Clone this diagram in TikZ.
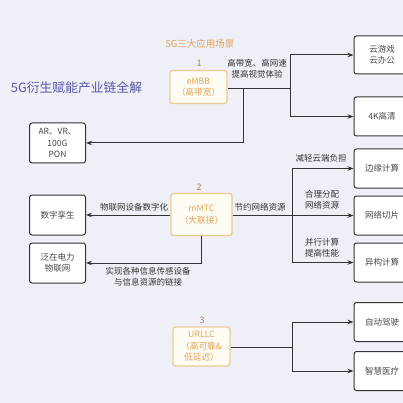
\documentclass[tikz,border=0pt]{standalone}
\usepackage{fontspec}
\setmainfont{Noto Sans CJK SC}
\usetikzlibrary{arrows.meta}
\definecolor{bg}{HTML}{EFEFF7}
\definecolor{org}{HTML}{E2A255}
\definecolor{orgdk}{HTML}{A8804F}
\definecolor{orgbd}{HTML}{EDCB96}
\definecolor{orgfill}{HTML}{FFFCF3}
\definecolor{ttl}{HTML}{5555AA}
\definecolor{ln}{HTML}{333333}
\tikzset{
  x=1pt, y=-1pt,
  scen/.style={draw=orgbd, line width=1.3pt, fill=orgfill, rounded corners=2.5pt, text=org,
    align=center, font=\fontsize{8.7}{11.5}\selectfont, inner sep=0pt},
  item/.style={draw=ln, line width=1pt, fill=white, rounded corners=2.5pt, text=ln!90,
    align=center, font=\fontsize{8.5}{11.5}\selectfont, inner sep=0pt, minimum width=56pt, minimum height=39pt},
  lbl/.style={text=ln, align=center, font=\fontsize{8.5}{11}\selectfont, inner sep=0pt},
  num/.style={text=orgdk, font=\fontsize{9}{10}\selectfont, inner sep=0pt},
  conn/.style={draw=ln, line width=1pt},
  arr/.style={conn, -{Stealth[length=6pt,width=4.5pt]}}
}
\begin{document}
\begin{tikzpicture}
\fill[bg] (0,0) rectangle (403,403);
\useasboundingbox (0,0) rectangle (403,403);
\clip (0,0) rectangle (403,403);

\node[text=ttl, font=\fontsize{12.8}{14}\selectfont, inner sep=0pt] (title) at (76.5,88) {5G衍生赋能产业链全解};
\node[text=org, font=\fontsize{9.5}{11}\selectfont, inner sep=0pt] (head) at (200,44) {5G三大应用场景};

% scenario boxes
\node[scen, minimum width=57pt, minimum height=33pt] (e) at (198.5,87) {eMBB\\（高带宽）};
\node[num] (n1) at (199,63) {1};
\node[scen, minimum width=61pt, minimum height=42pt] (m) at (201.5,214.5) {mMTC\\（大联接）};
\node[num] (n2) at (199,187) {2};
\node[scen, minimum width=57pt, minimum height=39pt] (u) at (201.5,346.5) {URLLC\\（高可靠\&\\低延迟）};
\node[num] (n3) at (202,320) {3};

% left items
\node[item, minimum height=40pt] (ar) at (57.5,143) {AR、VR、\\100G\\PON};
\node[item, minimum height=40pt] (dt) at (57.5,215) {数字孪生};
\node[item, minimum height=40pt] (pw) at (57.5,263) {泛在电力\\物联网};

% right items
\node[item, minimum height=38pt] (cg) at (382,55) {云游戏\\云办公};
\node[item] (k4) at (382,116.5) {4K高清};
\node[item] (ec) at (382,168.5) {边缘计算};
\node[item] (ns) at (382,215.5) {网络切片};
\node[item] (hc) at (382,262.5) {异构计算};
\node[item] (ad) at (382,322) {自动驾驶};
\node[item] (sm) at (382,371) {智慧医疗};

% eMBB connectors
\coordinate (e1) at (290,89);
\coordinate (e2) at (243,89);
\draw[conn] (e.east |- e1) -- (e1);
\draw[arr] (e1) |- (cg.west);
\draw[arr] (e1) |- (k4.west);
\draw[arr] (e2) |- (ar.east);
\node[lbl] (le) at (257,69) {高带宽、高网速\\提高视觉体验};

% mMTC connectors
\coordinate (m1) at (292,215.5);
\draw[arr] (m.east |- ns.west) -- (ns.west);
\draw[arr] (m1) |- (ec.west);
\draw[arr] (m1) |- (hc.west);
\draw[arr] (m.west |- dt.east) -- (dt.east);
\draw[arr] (m.south) |- (pw.east);
\node[lbl] (lm1) at (260,207) {节约网络资源};
\node[lbl] (lm2) at (321,158) {减轻云端负担};
\node[lbl] (lm3) at (322,200) {合理分配\\网络资源};
\node[lbl] (lm4) at (322,248) {并行计算\\提高性能};
\node[lbl] (lm5) at (134,207) {物联网设备数字化};
\node[lbl] (lm6) at (148,276.5) {实现各种信息传感设备\\与信息资源的链接};

% URLLC connectors
\coordinate (u1) at (292,347);
\draw[conn] (u.east |- u1) -- (u1);
\draw[arr] (u1) |- (ad.west);
\draw[arr] (u1) |- (sm.west);
\end{tikzpicture}
\end{document}
